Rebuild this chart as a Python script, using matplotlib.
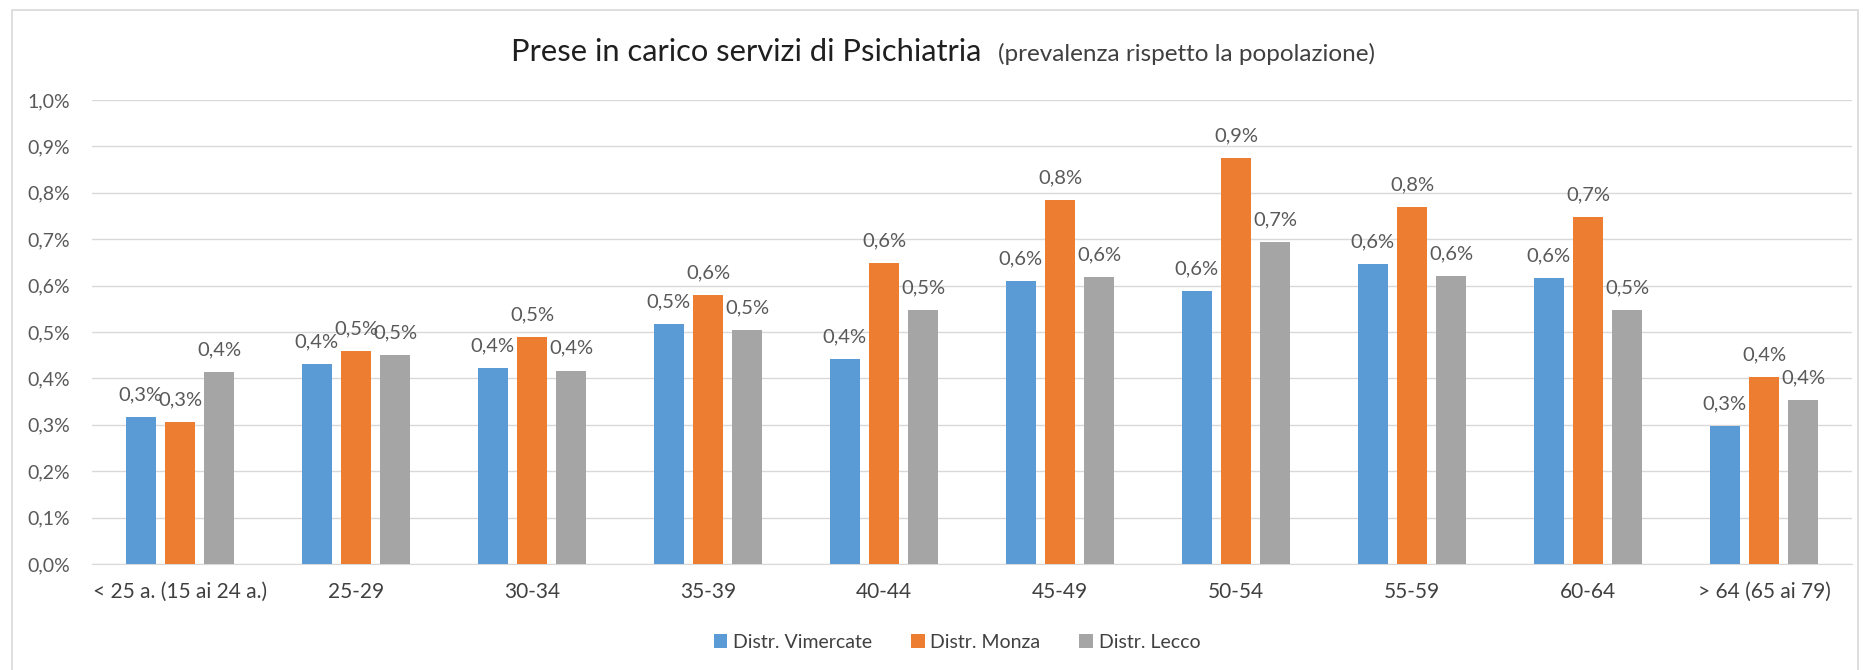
import matplotlib
matplotlib.use('Agg')
import matplotlib.pyplot as plt
from matplotlib.patches import Rectangle
import numpy as np

plt.rcParams['font.family'] = ['Lato', 'DejaVu Sans']

categories = ['< 25 a. (15 ai 24 a.)', '25-29', '30-34', '35-39', '40-44',
              '45-49', '50-54', '55-59', '60-64', '> 64 (65 ai 79)']
series_names = ['Distr. Vimercate', 'Distr. Monza', 'Distr. Lecco']
# values in percent
vimercate = [0.316, 0.430, 0.422, 0.517, 0.442, 0.609, 0.588, 0.647, 0.616, 0.297]
monza = [0.307, 0.459, 0.490, 0.580, 0.648, 0.785, 0.875, 0.770, 0.748, 0.402]
lecco = [0.414, 0.451, 0.417, 0.504, 0.547, 0.619, 0.693, 0.621, 0.547, 0.353]
yticks = [0.0, 0.1, 0.2, 0.3, 0.4, 0.5, 0.6, 0.7, 0.8, 0.9, 1.0]

colors = ['#5B9BD5', '#ED7D31', '#A5A5A5']
txt = '#595959'

W, H = 1863, 670
fig = plt.figure(figsize=(W / 100, H / 100), dpi=100)
ax = fig.add_axes([92 / W, 106 / H, 1760 / W, 464 / H])

# chart border
fig.patches.append(Rectangle((12 / W, -0.01), (1858 - 12) / W, 660 / H + 0.01,
                             transform=fig.transFigure, fill=False,
                             edgecolor='#D9D9D9', lw=1.2))

x = np.arange(len(categories))
bw = 0.17
step = 0.222
for i, (vals, name) in enumerate(zip([vimercate, monza, lecco], series_names)):
    pos = x + (i - 1) * step
    ax.bar(pos, vals, bw, color=colors[i], label=name, zorder=3)
    for px, v in zip(pos, vals):
        ax.annotate(('%.1f%%' % v).replace('.', ','), (px, v),
                    xytext=(0, 12), textcoords='offset points',
                    ha='center', va='baseline', fontsize=14.5, color=txt)

ax.set_xlim(-0.5, len(categories) - 0.5)
ax.set_ylim(0, 1.0)
ax.set_yticks(yticks)
ax.set_yticklabels([('%.1f%%' % t).replace('.', ',') for t in yticks])
ax.set_xticks(x)
ax.set_xticklabels(categories)
ax.tick_params(axis='y', length=0, pad=16, labelsize=14, labelcolor=txt)
ax.tick_params(axis='x', length=0, pad=13, labelsize=15, labelcolor='#404040')
ax.grid(axis='y', color='#D9D9D9', lw=1, zorder=0)
for s in ['top', 'right', 'left']:
    ax.spines[s].set_visible(False)
ax.spines['bottom'].set_color('#D9D9D9')

fig.text(981 / W, 1 - 61 / H, 'Prese in carico servizi di Psichiatria',
         ha='right', va='baseline', fontsize=22.2, color='#1F1F1F')
fig.text(998 / W, 1 - 61 / H, '(prevalenza rispetto la popolazione)',
         ha='left', va='baseline', fontsize=17.5, color='#404040')

fig.legend(loc='center', bbox_to_anchor=(957 / W, 28 / H), ncol=3, frameon=False,
           fontsize=14, handlelength=0.7, handleheight=0.7, handletextpad=0.3,
           columnspacing=2.0, labelcolor='#404040')

fig.savefig('out.png', dpi=100)
